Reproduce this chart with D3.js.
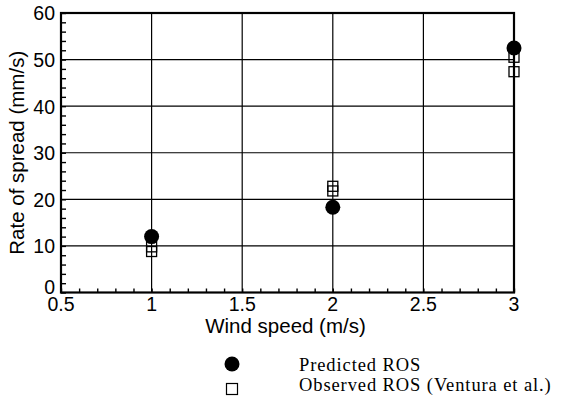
<!DOCTYPE html>
<html><head><meta charset="utf-8">
<script src="https://cdn.jsdelivr.net/npm/d3@7"></script>
<style>body{margin:0;background:#fff}svg{display:block}</style>
</head><body>
<svg id="c" width="570" height="408"></svg>
<script>
const predictedX = [1, 2, 3];
const predictedY = [12.0, 18.3, 52.5];
const observedX = [1, 1, 2, 2, 3, 3];
const observedY = [9.8, 8.8, 22.8, 21.8, 50.5, 47.4];
const xTicks = [0.5, 1, 1.5, 2, 2.5, 3];
const yTicks = [0, 10, 20, 30, 40, 50, 60];
const xTitle = "Wind speed (m/s)";
const yTitle = "Rate of spread (mm/s)";
const legendLabels = ["Predicted ROS", "Observed ROS (Ventura et al.)"];

const svg = d3.select("#c");
const L = 61, R = 514, T = 13, B = 292.5;
const x = d3.scaleLinear().domain([0.5, 3]).range([L, R]);
const y = d3.scaleLinear().domain([0, 60]).range([B, T]);
const sans = "'Liberation Sans', Arial, Helvetica, sans-serif";
const serif = "'Liberation Serif', 'Times New Roman', serif";

// gridlines
const g = svg.append("g");
g.selectAll("line.vx").data(xTicks.slice(1, -1)).enter().append("line")
  .attr("x1", d => x(d)).attr("x2", d => x(d)).attr("y1", T).attr("y2", B)
  .attr("stroke", "#000").attr("stroke-width", 1.2);
g.selectAll("line.hy").data(yTicks.slice(1, -1)).enter().append("line")
  .attr("y1", d => y(d)).attr("y2", d => y(d)).attr("x1", L).attr("x2", R)
  .attr("stroke", "#000").attr("stroke-width", 1.2);

// inward minor ticks
const xAxis = d3.axisTop(x).tickValues(d3.range(0.5, 3.0001, 0.1)).tickSize(4).tickFormat("");
const xa = svg.append("g").attr("transform", `translate(0,${B})`).call(xAxis);
xa.select(".domain").remove();
xa.selectAll("line").attr("stroke", "#000").attr("stroke-width", 1.4);
const yAxis = d3.axisRight(y).tickValues(d3.range(0, 60.001, 2)).tickSize(5).tickFormat("");
const ya = svg.append("g").attr("transform", `translate(${L},0)`).call(yAxis);
ya.select(".domain").remove();
ya.selectAll("line").attr("stroke", "#000").attr("stroke-width", 1.4);

// frame
svg.append("rect").attr("x", L).attr("y", T).attr("width", R - L).attr("height", B - T)
  .attr("fill", "none").attr("stroke", "#000").attr("stroke-width", 2.2);

// tick labels
svg.selectAll("text.xt").data(xTicks).enter().append("text")
  .attr("x", d => x(d)).attr("y", B + 18).attr("text-anchor", "middle")
  .attr("font-family", sans).attr("font-size", 19.5).text(d => d);
svg.selectAll("text.yt").data(yTicks).enter().append("text")
  .attr("x", L - 6).attr("y", d => y(d) - (d === 0 ? 6 : 0)).attr("dy", "0.38em").attr("text-anchor", "end")
  .attr("font-family", sans).attr("font-size", 19.5).text(d => d);

// titles
svg.append("text").attr("x", (L + R) / 2 - 2).attr("y", 333).attr("text-anchor", "middle")
  .attr("font-family", sans).attr("font-size", 20.5).text(xTitle);
svg.append("text").attr("transform", `translate(24,${(T + B) / 2}) rotate(-90)`)
  .attr("text-anchor", "middle").attr("font-family", sans).attr("font-size", 20.5).text(yTitle);

// points
const sq = 10;
svg.selectAll("rect.obs").data(observedX.map((d, i) => [d, observedY[i]])).enter().append("rect")
  .attr("x", d => x(d[0]) - sq / 2).attr("y", d => y(d[1]) - sq / 2)
  .attr("width", sq).attr("height", sq).attr("fill", "none").attr("stroke", "#000").attr("stroke-width", 1.3);
svg.selectAll("circle.pred").data(predictedX.map((d, i) => [d, predictedY[i]])).enter().append("circle")
  .attr("cx", d => x(d[0])).attr("cy", d => y(d[1])).attr("r", 7.5).attr("fill", "#000");

// legend
svg.append("circle").attr("cx", 232).attr("cy", 364).attr("r", 7.5).attr("fill", "#000");
svg.append("rect").attr("x", 232 - 5.5).attr("y", 389 - 5.5).attr("width", 11).attr("height", 11)
  .attr("fill", "none").attr("stroke", "#000").attr("stroke-width", 1.2);
svg.selectAll("text.lg").data(legendLabels).enter().append("text")
  .attr("x", 299).attr("y", (d, i) => 371 + i * 19.5)
  .attr("font-family", serif).attr("font-size", 18.5).attr("letter-spacing", 0.9).text(d => d);
</script>
</body></html>
